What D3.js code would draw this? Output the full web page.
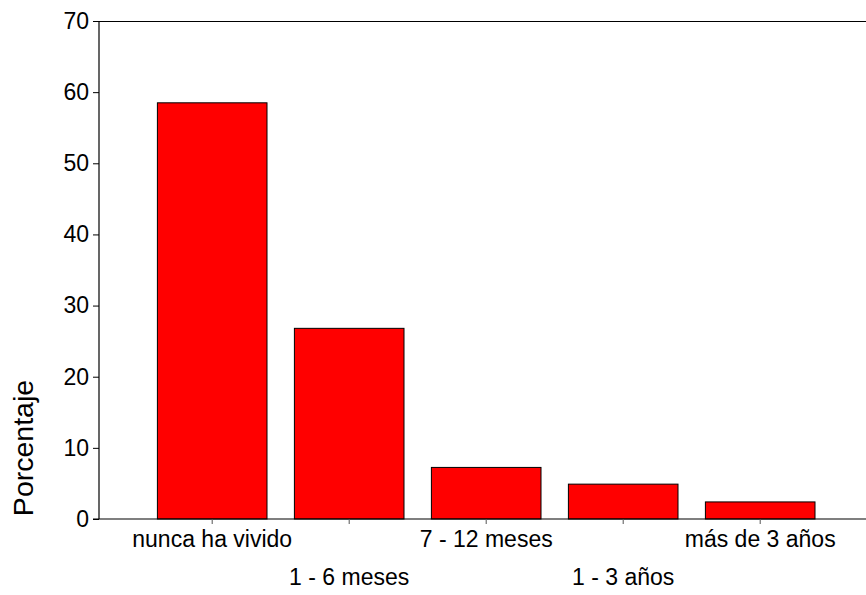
<!DOCTYPE html>
<html>
<head>
<meta charset="utf-8">
<script src="https://cdn.jsdelivr.net/npm/d3@7"></script>
<style>
  html, body { margin: 0; padding: 0; background: #fff; }
  text { font-family: "Liberation Sans", Arial, sans-serif; fill: #000; }
</style>
</head>
<body>
<svg id="chart" width="866" height="595"></svg>
<script>
const categories = ["nunca ha vivido", "1 - 6 meses", "7 - 12 meses", "1 - 3 años", "más de 3 años"];
const values = [58.5, 26.8, 7.25, 4.9, 2.4];
const yTicks = [0, 10, 20, 30, 40, 50, 60, 70];
const yLabel = "Porcentaje";

const svg = d3.select("#chart");
const mLeft = 99, mRight = 866, mTop = 21, mBottom = 519;

const x = d3.scaleBand().domain(categories).range([130, 842.4]).paddingInner(0.2).paddingOuter(0.2);
const y = d3.scaleLinear().domain([0, 70]).range([mBottom, mTop]);

// bars
svg.append("g").selectAll("rect").data(categories).join("rect")
  .attr("x", d => x(d))
  .attr("y", (d, i) => y(values[i]))
  .attr("width", x.bandwidth())
  .attr("height", (d, i) => y(0) - y(values[i]))
  .attr("fill", "#ff0000")
  .attr("stroke", "#000")
  .attr("stroke-width", 1);

// top frame line
svg.append("line").attr("x1", mLeft).attr("x2", mRight).attr("y1", mTop + 0.5).attr("y2", mTop + 0.5)
  .attr("stroke", "#000").attr("stroke-width", 1.2);

// y axis
const yAxis = svg.append("g").attr("transform", `translate(${mLeft},0)`)
  .call(d3.axisLeft(y).tickValues(yTicks).tickSize(6).tickPadding(4).tickFormat(d3.format("d")));
yAxis.select(".domain").attr("stroke", "#000").attr("stroke-width", 1.2).attr("d", `M0,${mTop}V${mBottom}`);
yAxis.selectAll(".tick line").attr("stroke", "#000");
yAxis.selectAll(".tick text").attr("font-size", 23).attr("font-family", "Liberation Sans, Arial, sans-serif").attr("fill", "#000");

// x axis
const xAxis = svg.append("g").attr("transform", `translate(0,${mBottom})`)
  .call(d3.axisBottom(x).tickSize(5).tickPadding(0));
xAxis.select(".domain").attr("stroke", "#000").attr("stroke-width", 1.2).attr("d", `M${mLeft - 6},0H${mRight}`);
xAxis.selectAll(".tick line").attr("stroke", "#555");
xAxis.selectAll(".tick text")
  .attr("font-size", 23).attr("font-family", "Liberation Sans, Arial, sans-serif").attr("fill", "#000")
  .attr("dy", null)
  .attr("y", (d, i) => i % 2 === 0 ? 28 : 66);

// y label
svg.append("text")
  .attr("transform", `translate(33,448) rotate(-90)`)
  .attr("text-anchor", "middle")
  .attr("font-size", 28.5)
  .text(yLabel);
</script>
</body>
</html>
